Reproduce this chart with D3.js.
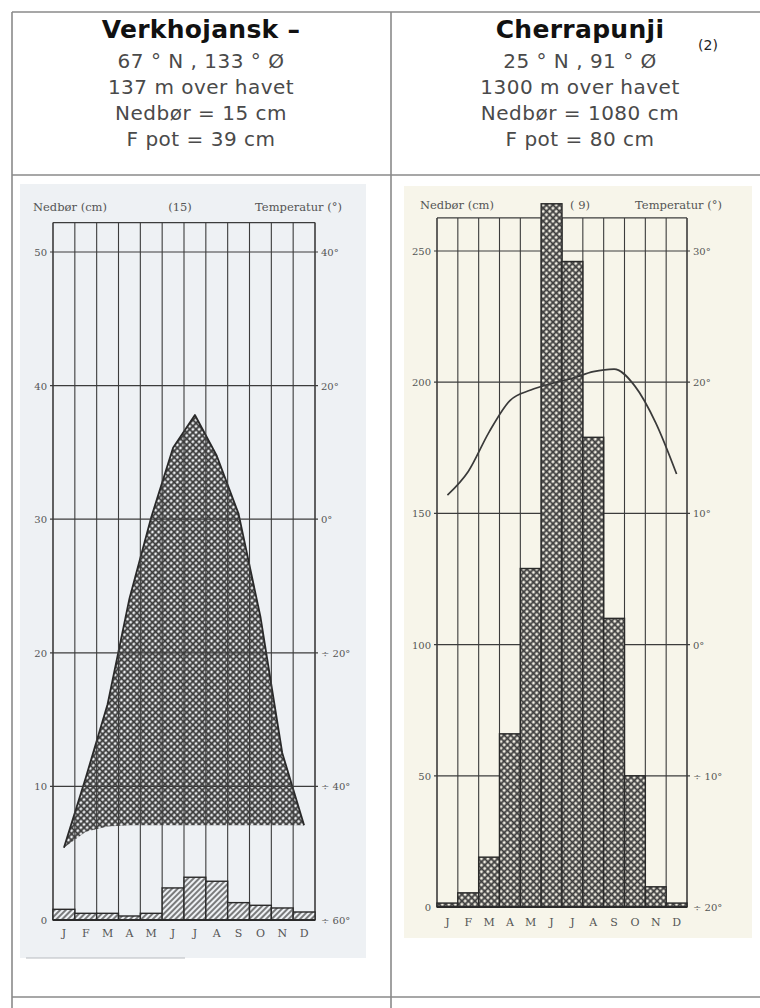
<!DOCTYPE html>
<meta charset="utf-8">
<style>
body { margin: 0; background: #fff; }
.head { font-family: "DejaVu Sans", Verdana, sans-serif; }
.scan text { font-family: "DejaVu Serif", serif; fill: #555; }
</style>
<svg width="760" height="1008"></svg>
<script src="https://d3js.org/d3.v7.min.js"></script>
<script>

var months = ["J", "F", "M", "A", "M", "J", "J", "A", "S", "O", "N", "D"];

// Verkhojansk
var verkPrecip = [0.8, 0.5, 0.5, 0.3, 0.5, 2.4, 3.2, 2.9, 1.3, 1.1, 0.9, 0.6];
var verkTemp = [-49.2, -38.7, -27.7, -11.9, 0.3, 10.7, 15.6, 9.5, 0.8, -14.6, -35, -45.8];
var verkTempLow = [-49.2, -46.8, -46, -45.8, -45.8, -45.8, -45.8, -45.8, -45.8, -45.8, -45.8, -45.8];
var verkPTicks = [0, 10, 20, 30, 40, 50];
var verkTTicks = [-60, -40, -20, 0, 20, 40];
var verkLines = ["67 ° N , 133 ° Ø", "137 m over havet", "Nedbør = 15 cm", "F pot = 39 cm"];

// Cherrapunji
var cherPrecip = [1.5, 5.4, 19, 66, 129, 268, 246, 179, 110, 50, 7.7, 1.5];
var cherTemp = [11.4, 13.2, 16.2, 18.6, 19.4, 19.9, 20.3, 20.8, 21.0, 19.7, 16.9, 13.0];
var cherPTicks = [0, 50, 100, 150, 200, 250];
var cherTTicks = [-20, -10, 0, 10, 20, 30];
var cherLines = ["25 ° N , 91 ° Ø", "1300 m over havet", "Nedbør = 1080 cm", "F pot = 80 cm"];

var svg = d3.select("svg");
var defs = svg.append("defs");

// crosshatch (dark with light holes)
function cross(id, bg, ink, size, w) {
  var p = defs.append("pattern")
      .attr("id", id)
      .attr("width", size).attr("height", size)
      .attr("patternUnits", "userSpaceOnUse")
      .attr("patternTransform", "rotate(45)");
  p.append("rect").attr("width", size).attr("height", size).attr("fill", bg);
  p.append("path")
      .attr("d", "M0," + size / 2 + "H" + size + "M" + size / 2 + ",0V" + size)
      .attr("stroke", ink).attr("stroke-width", w);
}
cross("crossL", "#eceef0", "#3a3a3a", 4.4, 1.9);
cross("crossR", "#f2efe4", "#3e3e3e", 4.6, 1.9);

var hatch = defs.append("pattern")
    .attr("id", "hatch")
    .attr("width", 4).attr("height", 4)
    .attr("patternUnits", "userSpaceOnUse")
    .attr("patternTransform", "rotate(-45)");
hatch.append("rect").attr("width", 4).attr("height", 4).attr("fill", "#eef1f4");
hatch.append("path").attr("d", "M0,2H4").attr("stroke", "#3a3a3a").attr("stroke-width", 1.3);

// table borders
var border = svg.append("g").attr("stroke", "#8a8a8a").attr("stroke-width", 1.6);
border.append("line").attr("x1", 12).attr("x2", 760).attr("y1", 12).attr("y2", 12);
border.append("line").attr("x1", 12).attr("x2", 760).attr("y1", 175).attr("y2", 175);
border.append("line").attr("x1", 12).attr("x2", 760).attr("y1", 997).attr("y2", 997);
border.append("line").attr("x1", 12).attr("x2", 12).attr("y1", 12).attr("y2", 1008);
border.append("line").attr("x1", 391).attr("x2", 391).attr("y1", 12).attr("y2", 1008);

// header cells
function header(cx, title, lines) {
  var g = svg.append("g").attr("class", "head").attr("text-anchor", "middle");
  g.append("text").attr("x", cx).attr("y", 38)
      .attr("font-size", 25).attr("font-weight", "bold").attr("fill", "#111")
      .attr("letter-spacing", 0.3)
      .text(title);
  g.selectAll("text.sub").data(lines).enter().append("text")
      .attr("class", "sub")
      .attr("x", cx)
      .attr("y", function(d, i) { return 68 + i * 26; })
      .attr("font-size", 20).attr("fill", "#4a4a4a")
      .attr("letter-spacing", 0.5)
      .text(function(d) { return d; });
  return g;
}
header(201, "Verkhojansk –", verkLines);
header(580, "Cherrapunji", cherLines)
  .append("text").attr("x", 708).attr("y", 50).attr("font-size", 14).attr("fill", "#222").text("(2)");

function tempLabel(t) {
  return t < 0 ? "÷ " + Math.abs(t) + "°" : t + "°";
}

function drawChart(c) {
  var g = svg.append("g").attr("class", "scan");
  g.append("rect")
      .attr("x", c.bg[0]).attr("y", c.bg[1]).attr("width", c.bg[2]).attr("height", c.bg[3])
      .attr("fill", c.bgColor);

  var x = d3.scaleBand().domain(d3.range(12)).range([c.x0, c.x1]);
  var yP = d3.scaleLinear().domain([0, c.pTicks[c.pTicks.length - 1]]).range([c.y0, c.yTop]);
  var yT = d3.scaleLinear().domain([c.tTicks[0], c.tTicks[c.tTicks.length - 1]]).range([c.y0, c.yTop]);
  var mid = function(d, i) { return x(i) + x.bandwidth() / 2; };

  // temperature band (Verkhojansk)
  if (c.tempLow) {
    var area = d3.area()
        .x(mid)
        .y0(function(d, i) { return yT(c.tempLow[i]); })
        .y1(function(d) { return yT(d); });
    g.append("path").datum(c.temp)
        .attr("d", area)
        .attr("fill", "url(#crossL)");
    g.append("path").datum(c.temp)
        .attr("d", d3.line().x(mid).y(function(d) { return yT(d); }))
        .attr("fill", "none").attr("stroke", "#2a2a2a").attr("stroke-width", 1.8)
        .attr("stroke-linejoin", "round");
  }

  // grid
  var grid = g.append("g").attr("stroke", "#3c3c3c").attr("stroke-width", 1.2);
  grid.selectAll("line.h").data(c.pTicks.slice(1)).enter().append("line")
      .attr("x1", c.x0 - 3).attr("x2", c.x1 + 3)
      .attr("y1", function(d) { return yP(d); })
      .attr("y2", function(d) { return yP(d); });
  grid.append("line")
      .attr("x1", c.x0).attr("x2", c.x1)
      .attr("y1", yP(c.frameTop)).attr("y2", yP(c.frameTop));
  grid.selectAll("line.v").data(d3.range(13)).enter().append("line")
      .attr("x1", function(i) { return i < 12 ? x(i) : c.x1; })
      .attr("x2", function(i) { return i < 12 ? x(i) : c.x1; })
      .attr("y1", yP(c.frameTop)).attr("y2", c.y0)
      .attr("stroke-width", function(i) { return i === 0 || i === 12 ? 1.6 : 1.1; });

  // precipitation bars
  g.append("g").selectAll("rect").data(c.precip).enter().append("rect")
      .attr("x", function(d, i) { return x(i); })
      .attr("width", x.bandwidth())
      .attr("y", function(d) { return yP(d); })
      .attr("height", function(d) { return c.y0 - yP(d); })
      .attr("fill", c.barFill)
      .attr("stroke", "#2a2a2a").attr("stroke-width", 1.4);

  // baseline
  g.append("line").attr("x1", c.x0).attr("x2", c.x1)
      .attr("y1", c.y0).attr("y2", c.y0)
      .attr("stroke", "#2a2a2a").attr("stroke-width", 2);

  // temperature line (Cherrapunji)
  if (!c.tempLow) {
    g.append("path").datum(c.temp)
        .attr("d", d3.line().x(mid).y(function(d) { return yT(d); }).curve(d3.curveMonotoneX))
        .attr("fill", "none").attr("stroke", "#3a3a3a").attr("stroke-width", 1.7);
  }

  // labels
  g.selectAll("text.pl").data(c.pTicks).enter().append("text")
      .attr("x", c.x0 - 6)
      .attr("y", function(d) { return yP(d) + 4; })
      .attr("text-anchor", "end").attr("font-size", 10)
      .text(function(d) { return d; });
  g.selectAll("text.tl").data(c.tTicks).enter().append("text")
      .attr("x", c.x1 + 6)
      .attr("y", function(d) { return yT(d) + 4; })
      .attr("font-size", 10)
      .text(tempLabel);
  g.selectAll("text.m").data(months).enter().append("text")
      .attr("x", function(d, i) { return x(i) + x.bandwidth() / 2; })
      .attr("y", c.monthY)
      .attr("text-anchor", "middle").attr("font-size", 11)
      .text(function(d) { return d; });

  g.append("text").attr("x", c.labY[0]).attr("y", c.labY[3]).attr("font-size", 11.5).text("Nedbør (cm)");
  g.append("text").attr("x", c.labY[1]).attr("y", c.labY[3]).attr("font-size", 11.5)
      .attr("text-anchor", "middle").text(c.note);
  g.append("text").attr("x", c.labY[2]).attr("y", c.labY[3]).attr("font-size", 11.5)
      .attr("text-anchor", "end").text("Temperatur (°)");
}

drawChart({
  bg: [20, 184, 346, 774], bgColor: "#eef1f4",
  x0: 53, x1: 315, y0: 920, yTop: 252, frameTop: 52.2,
  pTicks: verkPTicks, tTicks: verkTTicks,
  precip: verkPrecip, temp: verkTemp, tempLow: verkTempLow,
  barFill: "url(#hatch)", monthY: 937, labY: [33, 180, 342, 211], note: "(15)"
});

drawChart({
  bg: [404, 186, 348, 752], bgColor: "#f7f5ea",
  x0: 437, x1: 687, y0: 907, yTop: 251, frameTop: 262.6,
  pTicks: cherPTicks, tTicks: cherTTicks,
  precip: cherPrecip, temp: cherTemp, tempLow: null,
  barFill: "url(#crossR)", monthY: 926, labY: [420, 580, 722, 209], note: "( 9)"
});

// faint scan edge under the left picture
svg.append("line").attr("x1", 26).attr("x2", 185).attr("y1", 958).attr("y2", 958)
    .attr("stroke", "#b8bcc0").attr("stroke-width", 1.2);

</script>
